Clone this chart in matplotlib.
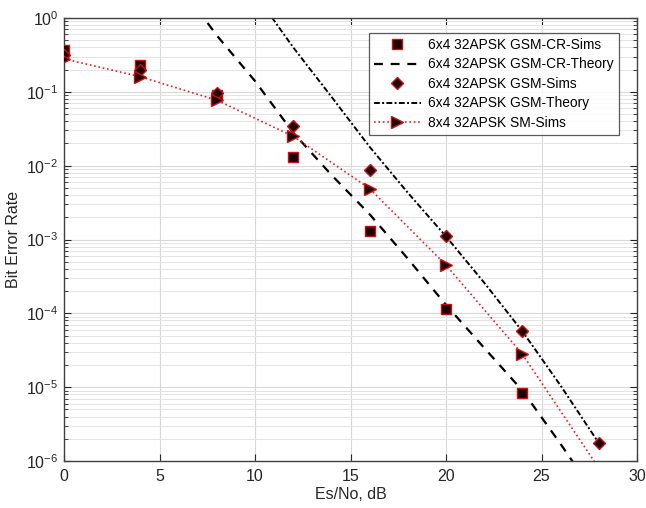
import numpy as np
import matplotlib
matplotlib.use("Agg")
import matplotlib.pyplot as plt
from matplotlib.ticker import LogLocator, NullFormatter, FixedLocator, LogFormatterSciNotation

plt.rcParams['font.family'] = ['Liberation Sans', 'DejaVu Sans']
plt.rcParams['mathtext.fontset'] = 'custom'
plt.rcParams['mathtext.rm'] = 'Liberation Sans'
plt.rcParams['mathtext.it'] = 'Liberation Sans'

# ---- data ----
cr_sims_x = [0, 4, 8, 12, 16, 20, 24]
cr_sims_y = [0.37, 0.23, 0.09, 0.013, 1.3e-3, 1.15e-4, 8.3e-6]

cr_theory_x = [7, 8, 10, 12, 14, 16, 18, 20, 22, 24, 26, 28]
cr_theory_y = [1.3, 0.58, 0.14, 0.028, 7.5e-3, 2.2e-3, 5.5e-4, 1.3e-4, 3.4e-5, 9e-6, 1.7e-6, 3e-7]

gsm_sims_x = [0, 4, 8, 12, 16, 20, 24, 28]
gsm_sims_y = [0.32, 0.2, 0.096, 0.034, 8.7e-3, 1.1e-3, 5.7e-5, 1.75e-6]

gsm_theory_x = [10.5, 12, 14, 16, 18, 20, 22, 24, 26, 28]
gsm_theory_y = [1.4, 0.4, 0.086, 0.018, 4.3e-3, 1.1e-3, 2.6e-4, 5.7e-5, 1.05e-5, 1.75e-6]

sm_sims_x = [0, 4, 8, 12, 16, 20, 24, 28]
sm_sims_y = [0.28, 0.16, 0.077, 0.025, 4.9e-3, 4.5e-4, 2.8e-5, 8e-7]

labels = ['6x4 32APSK GSM-CR-Sims', '6x4 32APSK GSM-CR-Theory',
          '6x4 32APSK GSM-Sims', '6x4 32APSK GSM-Theory', '8x4 32APSK SM-Sims']
xticks = [0, 5, 10, 15, 20, 25, 30]
yticks = [1e-6, 1e-5, 1e-4, 1e-3, 1e-2, 1e-1, 1]

# ---- figure ----
fig = plt.figure(figsize=(6.46, 5.08), dpi=100)
ax = fig.add_axes([64/646, 1-461/508, (637-64)/646, (461-18)/508])

face = '#200000'
edge = '#c81010'

ax.plot(cr_sims_x, cr_sims_y, ls='none', marker='s', ms=6.5, mfc=face, mec=edge, mew=1.0,
        label=labels[0], zorder=3)
ax.plot(cr_theory_x, cr_theory_y, ls=(0, (4, 3.5)), color='black', lw=1.6,
        label=labels[1], zorder=2)
ax.plot(gsm_sims_x, gsm_sims_y, ls='none', marker='D', ms=6, mfc=face, mec=edge, mew=1.0,
        label=labels[2], zorder=3)
ax.plot(gsm_theory_x, gsm_theory_y, ls=(0, (3, 1.2, 1, 1.2)), color='black', lw=1.4,
        label=labels[3], zorder=2)
ax.plot(sm_sims_x, sm_sims_y, ls=':', color='#e02020', lw=1.2, marker='>', ms=8,
        mfc=face, mec=edge, mew=1.0, label=labels[4], zorder=3)

ax.set_yscale('log')
ax.set_xlim(0, 30)
ax.set_ylim(1e-6, 1)
ax.xaxis.set_major_locator(FixedLocator(xticks))
ax.yaxis.set_major_locator(FixedLocator(yticks))
ax.yaxis.set_major_formatter(LogFormatterSciNotation())
minor = [m * 10.0**e for e in range(-6, 0) for m in range(2, 10)]
ax.yaxis.set_minor_locator(FixedLocator(minor))
ax.yaxis.set_minor_formatter(NullFormatter())

ax.grid(True, which='major', color='#d8d8d8', lw=0.8)
ax.grid(True, which='minor', axis='y', color='#e4e4e4', lw=0.7)
ax.set_axisbelow(True)

ax.tick_params(which='both', direction='in', top=True, right=True, labelsize=11.5,
               colors='#262626')
ax.tick_params(which='major', length=5, width=0.8)
ax.tick_params(which='minor', length=3, width=0.6)
ax.tick_params(axis='x', pad=6)
ax.tick_params(axis='y', pad=4)
for s in ax.spines.values():
    s.set_color('#404040')
    s.set_linewidth(1.0)

ax.set_xlabel('Es/No, dB', fontsize=11.5, color='#262626', labelpad=2)
ax.set_ylabel('Bit Error Rate', fontsize=11.5, color='#262626', labelpad=4)

leg = ax.legend(loc='upper right', bbox_to_anchor=(0.968, 0.966), borderaxespad=0,
                fontsize=9.9, frameon=True, fancybox=False, edgecolor='#303030',
                handlelength=3.4, handletextpad=0.55, labelspacing=0.4,
                borderpad=0.35)
leg.get_frame().set_linewidth(0.9)

fig.savefig('out.png', dpi=100)
